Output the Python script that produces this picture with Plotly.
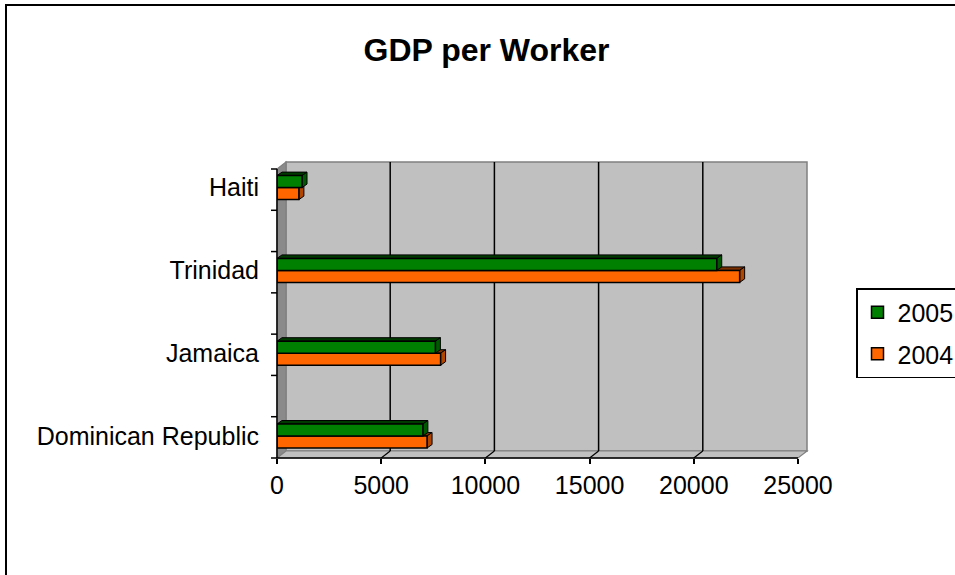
import plotly.graph_objects as go

# ---------------- data ----------------
categories = ["Dominican Republic", "Jamaica", "Trinidad", "Haiti"]
gdp_2005 = [7000, 7600, 21100, 1200]
gdp_2004 = [7200, 7850, 22200, 1050]
x_ticks = [0, 5000, 10000, 15000, 20000, 25000]
series_names = ["2005", "2004"]
title_text = "GDP per Worker"

# ---------------- styling / layout (pixels) ----------------
W, H = 955, 575
FONT = "Liberation Sans, Arial, sans-serif"
L, R_FRONT, B, T_FRONT = 277, 798, 458, 169      # front plane of the 3-D box
DX, DY = 9, 7                                    # depth offset of back wall
R = R_FRONT + DX
T = T_FRONT - DY
FRONT_W = R_FRONT - L
FRONT_H = B - T_FRONT
XMAX = x_ticks[-1]
PPX = FRONT_W / XMAX                              # px per x unit
CAT_PX = 82.8                                     # px per category
Y0_PX = 436                                       # pixel of first category
x_range = [0, (R - L) / PPX]
y_range = [-(B - Y0_PX) / CAT_PX, (Y0_PX - T) / CAT_PX]
BAR_W = 12 / CAT_PX
BAR_DX = 5 / PPX
BAR_DY = 3.5 / CAT_PX

GREEN, GREEN_TOP, GREEN_SIDE = "#008000", "#003a00", "#005800"
ORANGE, ORANGE_TOP, ORANGE_SIDE = "#FF6600", "#7a3000", "#b04600"
WALL, WALL_DARK, EDGE = "#C0C0C0", "#8a8a8a", "#808080"

fig = go.Figure()
fig.add_trace(go.Bar(
    y=categories, x=gdp_2004, orientation="h", name=series_names[1],
    offset=-BAR_W, width=BAR_W, legendrank=2, legendgroup="g2004",
    marker=dict(color=ORANGE, line=dict(color="black", width=1.5)),
))
fig.add_trace(go.Bar(
    y=categories, x=gdp_2005, orientation="h", name=series_names[0],
    offset=0, width=BAR_W, legendrank=1, legendgroup="g2005",
    marker=dict(color=GREEN, line=dict(color="black", width=1.5)),
))

shapes = []

def pix_path(d, fill, line_color, lw=1.2):
    return dict(type="path", xref="paper", yref="paper", xsizemode="pixel",
                ysizemode="pixel", xanchor=0, yanchor=0, path=d,
                fillcolor=fill, line=dict(color=line_color, width=lw),
                layer="below")

# outer chart frame
shapes.append(dict(type="rect", xref="paper", yref="paper", xsizemode="pixel",
                   ysizemode="pixel", xanchor=0, yanchor=0,
                   x0=6 - L, x1=W + 20 - L, y0=B - (H + 20), y1=B - 5,
                   line=dict(color="black", width=2), fillcolor="rgba(0,0,0,0)",
                   layer="below"))
# back wall
shapes.append(pix_path(f"M{DX},{DY} L{DX+FRONT_W},{DY} L{DX+FRONT_W},{DY+FRONT_H} "
                       f"L{DX},{DY+FRONT_H} Z", WALL, EDGE, 1.5))
# left wall
shapes.append(pix_path(f"M0,0 L{DX},{DY} L{DX},{DY+FRONT_H} L0,{FRONT_H} Z",
                       WALL_DARK, EDGE, 1.2))
# floor
shapes.append(pix_path(f"M0,0 L{FRONT_W},0 L{FRONT_W+DX},{DY} L{DX},{DY} Z",
                       WALL, EDGE, 1.2))
# gridlines on back wall + floor diagonals
for v in x_ticks[1:-1]:
    shapes.append(dict(type="line", xref="x", yref="paper", xsizemode="pixel",
                       ysizemode="pixel", xanchor=v, yanchor=0,
                       x0=DX, x1=DX, y0=DY, y1=DY + FRONT_H,
                       line=dict(color="black", width=1.5), layer="below"))
for v in x_ticks[1:-1]:
    shapes.append(dict(type="path", xref="x", yref="paper", xsizemode="pixel",
                       ysizemode="pixel", xanchor=v, yanchor=0,
                       path=f"M0,0 L{DX},{DY}",
                       line=dict(color="black", width=1.2), layer="below"))

# 3-D faces of bars (2004 first, 2005 drawn over)
for vals, off, top_c, side_c in [(gdp_2004, -BAR_W, ORANGE_TOP, ORANGE_SIDE),
                                 (gdp_2005, 0.0, GREEN_TOP, GREEN_SIDE)]:
    for i, v in enumerate(vals):
        y0 = i + off
        y1 = y0 + BAR_W
        shapes.append(dict(type="path", xref="x", yref="y",
                           path=f"M0,{y1} L{v},{y1} L{v+BAR_DX},{y1+BAR_DY} L{BAR_DX},{y1+BAR_DY} Z",
                           fillcolor=top_c, line=dict(color="black", width=1),
                           layer="below"))
        shapes.append(dict(type="path", xref="x", yref="y",
                           path=f"M{v},{y0} L{v},{y1} L{v+BAR_DX},{y1+BAR_DY} L{v+BAR_DX},{y0+BAR_DY} Z",
                           fillcolor=side_c, line=dict(color="black", width=1),
                           layer="below"))

# front axis lines
shapes.append(dict(type="line", xref="x", yref="paper", x0=0, x1=XMAX, y0=0, y1=0,
                   line=dict(color="black", width=1.5), layer="above"))
shapes.append(dict(type="line", xref="paper", yref="paper", xsizemode="pixel",
                   ysizemode="pixel", xanchor=0, yanchor=0, x0=0, x1=0,
                   y0=0, y1=FRONT_H, line=dict(color="black", width=1.5),
                   layer="above"))
n_int = 2 * len(categories) - 1
for k in range(n_int + 1):
    yy = k * FRONT_H / n_int
    shapes.append(dict(type="line", xref="paper", yref="paper", xsizemode="pixel",
                       ysizemode="pixel", xanchor=0, yanchor=0, x0=-6, x1=0,
                       y0=yy, y1=yy, line=dict(color="black", width=1.5),
                       layer="above"))

fig.update_layout(
    width=W, height=H, autosize=False,
    margin=dict(l=L, r=W - R, t=T, b=H - B, pad=0),
    paper_bgcolor="white", plot_bgcolor="rgba(0,0,0,0)",
    barmode="overlay",
    font=dict(family=FONT, size=25, color="black"),
    title=dict(text=title_text, x=486.5 / W, xref="container", xanchor="center",
               y=1 - 50 / H, yref="container", yanchor="middle",
               font=dict(family=FONT, size=32, color="black", weight="bold")),
    xaxis=dict(range=x_range, tickmode="array", tickvals=x_ticks,
               ticktext=[str(t) for t in x_ticks],
               showgrid=False, zeroline=False, showline=False,
               ticks="outside", ticklen=5, tickwidth=1.5, tickcolor="black",
               tickfont=dict(size=25), automargin=False, fixedrange=True),
    yaxis=dict(type="category", categoryorder="array", categoryarray=categories,
               range=y_range, showgrid=False, zeroline=False, showline=False,
               ticks="", ticklabelstandoff=17, tickfont=dict(size=25),
               automargin=False, fixedrange=True),
    legend=dict(xref="container", yref="container", x=856 / W, y=1 - 288 / H,
                xanchor="left", yanchor="top", traceorder="grouped",
                tracegroupgap=6, bordercolor="black", borderwidth=1.5,
                bgcolor="white", font=dict(size=25)),
    shapes=shapes,
    showlegend=True,
)

fig.write_html("out.html")
